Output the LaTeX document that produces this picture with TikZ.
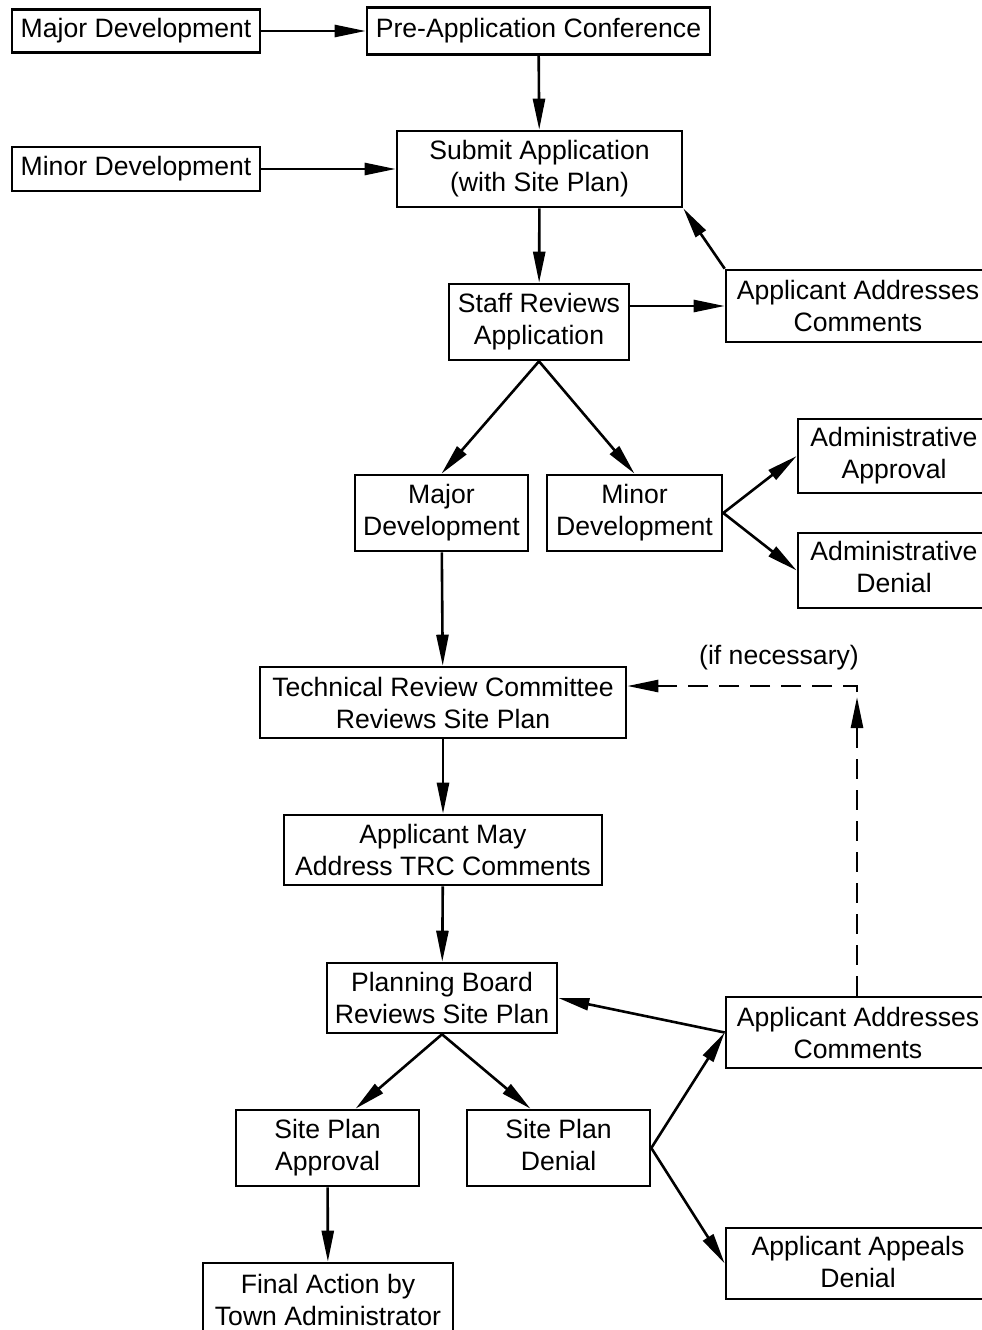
\documentclass[tikz,border=0pt]{standalone}
\usepackage{fontspec}
\setmainfont{Liberation Sans}
\usetikzlibrary{arrows.meta}
\begin{document}
\begin{tikzpicture}[x=1pt,y=-1pt,
  box/.style={draw,line width=2.6pt,rectangle,inner sep=0pt,align=center,
    font=\fontsize{26.6}{32}\selectfont},
  arr/.style={line width=2.6pt,-{Triangle[length=31pt,width=12pt]}},
  dsh/.style={line width=2.6pt,dash pattern=on 20pt off 11pt}]
\useasboundingbox (0,0) rectangle (982,1330);
\clip (0,0) rectangle (982,1330);
\fill[white] (0,0) rectangle (982,1330);
% nodes
\node[box,minimum width=248pt,minimum height=43pt] (majA) at (136,31) {Major Development};
\node[box,minimum width=343pt,minimum height=47pt] (pre) at (538.5,31) {Pre-Application Conference};
\node[box,minimum width=248pt,minimum height=44pt] (minA) at (136,169) {Minor Development};
\node[box,minimum width=285pt,minimum height=76pt] (sub) at (539.5,169) {Submit Application\\(with Site Plan)};
\node[box,minimum width=180pt,minimum height=76pt] (staff) at (539,322) {Staff Reviews\\Application};
\node[box,minimum width=264pt,minimum height=72pt] (acA) at (858,306) {Applicant Addresses\\Comments};
\node[box,minimum width=173pt,minimum height=76pt] (majB) at (441.5,513) {Major\\Development};
\node[box,minimum width=175pt,minimum height=76pt] (minB) at (634.5,513) {Minor\\Development};
\node[box,minimum width=192pt,minimum height=74pt] (aap) at (894,456) {Administrative\\Approval};
\node[box,minimum width=192pt,minimum height=75pt] (aden) at (894,570.5) {\rule{0pt}{22pt}Administrative\strut\\Denial\strut};
\node[box,minimum width=366pt,minimum height=71pt] (trc) at (443,702.5) {Technical Review Committee\\Reviews Site Plan};
\node[box,minimum width=318pt,minimum height=70pt] (may) at (443,850) {Applicant May\\Address TRC Comments};
\node[box,minimum width=230pt,minimum height=70pt] (pb) at (442,998) {Planning Board\\Reviews Site Plan};
\node[box,minimum width=264pt,minimum height=71pt] (acB) at (858,1032.5) {Applicant Addresses\\Comments};
\node[box,minimum width=183pt,minimum height=76pt] (spa) at (327.5,1148) {Site Plan\strut\\Approval\strut};
\node[box,minimum width=183pt,minimum height=76pt] (spd) at (558.5,1148) {Site Plan\strut\\Denial\strut};
\node[box,minimum width=250pt,minimum height=74pt] (fin) at (328,1300) {Final Action by\\Town Administrator};
\node[box,minimum width=264pt,minimum height=71pt] (app) at (858,1263.5) {\rule{0pt}{26pt}Applicant Appeals\strut\\Denial\strut};
\node[font=\fontsize{26.6}{32}\selectfont,inner sep=0pt] (ifn) at (779,658) {(if necessary)};
\coordinate (corner) at (857,686);
\coordinate (uptip) at (857,697);
% connectors
\draw[arr] (majA) -- (pre);
\draw[arr] (pre) -- (sub);
\draw[arr] (minA) -- (sub);
\draw[arr] (sub) -- (staff);
\draw[arr] (staff.east |- acA.west) -- (acA.west);
\draw[arr] (acA.north west) -- (sub.south east);
\draw[arr] (staff.south) -- (majB.north);
\draw[arr] (staff.south) -- (minB.north);
\draw[arr] (minB.east) -- (aap.west);
\draw[arr] (minB.east) -- (aden.west);
\draw[arr] (majB) -- (trc);
\draw[arr] (trc) -- (may);
\draw[arr] (may) -- (pb);
\draw[arr] (pb.south) -- ([xshift=28pt]spa.north);
\draw[arr] (pb.south) -- ([xshift=-28pt]spd.north);
\draw[arr] (spa) -- (fin);
\draw[arr] (spd.east) -- (acB.west);
\draw[arr] (spd.east) -- (app.west);
\draw[arr] (acB.west) -- (pb.east);
\draw[dsh,-{Triangle[length=31pt,width=12pt]}] (acB.north -| uptip) -- (uptip);
\draw[dsh,-{Triangle[length=31pt,width=12pt]}] ([yshift=-6pt]corner) -- (corner) -- (trc.east |- corner);
\end{tikzpicture}
\end{document}
